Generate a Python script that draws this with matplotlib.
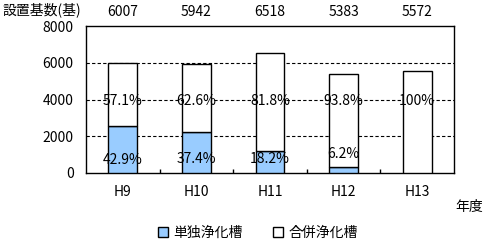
import matplotlib.pyplot as plt
import numpy as np

plt.rcParams['font.family'] = ['Noto Sans CJK JP', 'DejaVu Sans']

years = ['H9', 'H10', 'H11', 'H12', 'H13']
totals = [6007, 5942, 6518, 5383, 5572]
single = [2577, 2222, 1186, 334, 0]
single_pct = ['42.9%', '37.4%', '18.2%', '6.2%', '']
combined_pct = ['57.1%', '62.6%', '81.8%', '93.8%', '100%']

combined = [t - s for t, s in zip(totals, single)]

fig = plt.figure(figsize=(4.86, 2.47), dpi=100)
ax = fig.add_axes([86 / 486, 1 - 173 / 247, 368 / 486, 147 / 247])

fs = 10
x = np.arange(len(years))
w = 0.39
ax.bar(x, single, w, color='#99CCFF', edgecolor='black', linewidth=1,
       label='単独浄化槽', zorder=3)
ax.bar(x, combined, w, bottom=single, color='white', edgecolor='black',
       linewidth=1, label='合併浄化槽', zorder=3)

ax.set_xlim(-0.5, len(years) - 0.5)
ax.set_ylim(0, 8000)
ax.set_yticks([0, 2000, 4000, 6000, 8000])
ax.tick_params(axis='y', length=0, labelsize=fs, pad=9)
ax.set_xticks(x)
ax.set_xticklabels(years)
ax.tick_params(axis='x', length=0, labelsize=fs, pad=9)
ax.set_xticks(np.arange(len(years) - 1) + 0.5, minor=True)
ax.tick_params(axis='x', which='minor', direction='in', length=3, width=1)
for g in [2000, 4000, 6000]:
    ax.axhline(g, color='black', linestyle=(0, (3, 2)), linewidth=0.8, zorder=1)
for s in ax.spines.values():
    s.set_linewidth(1)

# labels
single_y = [700, 750, 750, 1050, 0]
for i in range(len(years)):
    ax.text(x[i], 8400, str(totals[i]), ha='center', va='bottom', fontsize=fs,
            clip_on=False)
    ax.text(x[i], 3900, combined_pct[i], ha='center', va='center', fontsize=fs,
            zorder=4)
    if single_pct[i]:
        ax.text(x[i], single_y[i], single_pct[i], ha='center', va='center',
                fontsize=fs, zorder=4)

fig.text(2 / 486, 1 - 10 / 247, '設置基数(基)', ha='left', va='center', fontsize=fs)
fig.text(483 / 486, 1 - 207 / 247, '年度', ha='right', va='center', fontsize=fs)

fig.legend(loc='center', bbox_to_anchor=(258 / 486, 1 - 233 / 247), ncol=2,
           frameon=False, fontsize=fs, handlelength=0.7, handleheight=0.7,
           columnspacing=2.2, handletextpad=0.4)

fig.savefig('out.png', dpi=100)
